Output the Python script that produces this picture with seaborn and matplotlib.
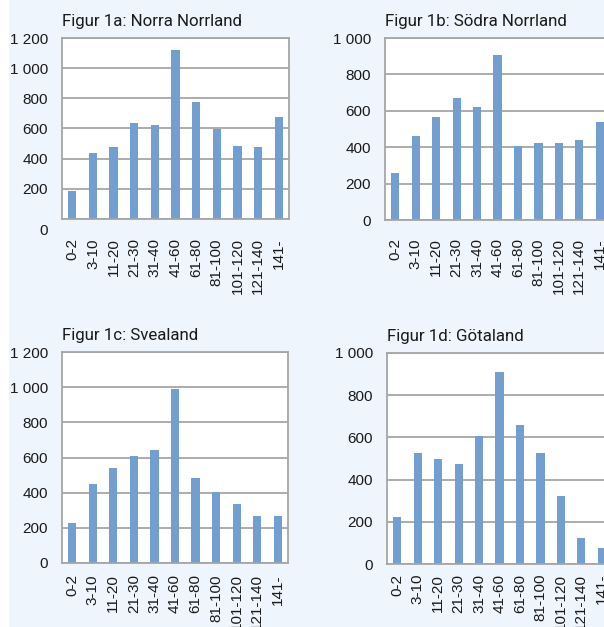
import matplotlib
matplotlib.use("Agg")
import matplotlib.pyplot as plt
import matplotlib.transforms as mtransforms
from matplotlib.patches import Rectangle
import seaborn as sns
import pandas as pd

# Age classes (years) shared by all four regional panels
age_classes = ["0-2", "3-10", "11-20", "21-30", "31-40", "41-60",
               "61-80", "81-100", "101-120", "121-140", "141-"]

norra_norrland = [185, 435, 475, 635, 625, 1120, 775, 595, 485, 475, 675]
sodra_norrland = [260, 460, 565, 670, 620, 905, 405, 425, 425, 440, 540]
svealand = [225, 450, 540, 610, 640, 990, 485, 405, 335, 270, 270]
gotaland = [225, 525, 500, 475, 605, 910, 660, 525, 320, 125, 75]

titles = ["Figur 1a: Norra Norrland", "Figur 1b: Södra Norrland",
          "Figur 1c: Svealand", "Figur 1d: Götaland"]
y_max = [1200, 1000, 1200, 1000]

W, H = 604, 627
DPI = 100
BAR = "#729fcf"
GRID = "#a6a6a6"
PANEL_BG = "#eef5fc"

sns.set_theme(style="white")
plt.rcParams["font.family"] = ["Liberation Sans", "DejaVu Sans"]

fig = plt.figure(figsize=(W / DPI, H / DPI), dpi=DPI)
fig.patch.set_facecolor("white")
fig.patches.append(Rectangle((9 / W, 0), 1, 1, transform=fig.transFigure,
                             facecolor=PANEL_BG, edgecolor="none", zorder=-10))


def px_axes(left, top, right, bottom):
    return fig.add_axes([left / W, 1 - bottom / H, (right - left) / W, (bottom - top) / H])


# plot-area boxes in pixels: left, top, right, bottom
boxes = [(62, 38, 289, 219), (385, 38, 610, 220),
         (62, 352, 288, 563), (387, 353, 612, 564)]
series = [norra_norrland, sodra_norrland, svealand, gotaland]
xpads = [14, 13, 8, 7]


def fmt(v):
    return f"{v:,}".replace(",", " ")


for i, (box, vals, title, ymax) in enumerate(zip(boxes, series, titles, y_max)):
    ax = px_axes(*box)
    ax.set_facecolor("white")
    df = pd.DataFrame({"age": age_classes, "value": vals})
    sns.barplot(data=df, x="age", y="value", color=BAR, saturation=1,
                width=0.4, linewidth=0, ax=ax)
    for p in ax.patches:
        p.set_zorder(3)
    ax.set_xlim(-0.5, len(age_classes) - 0.5)
    ax.set_ylim(0, ymax)
    ticks = list(range(0, ymax + 1, 200))
    ax.set_yticks(ticks)
    ax.set_yticklabels([fmt(t) for t in ticks])
    ax.set_xlabel("")
    ax.set_ylabel("")
    ax.grid(axis="y", color=GRID, linewidth=1.3)
    for gl in ax.get_ygridlines():
        gl.set_zorder(1)
    for s in ax.spines.values():
        s.set_color(GRID)
        s.set_linewidth(1.3)
        s.set_zorder(4)
    ax.tick_params(axis="y", length=0, pad=10, labelsize=11, labelcolor="#1a1a1a")
    ax.tick_params(axis="x", length=0, pad=xpads[i], labelsize=11,
                   labelcolor="#1a1a1a", rotation=90)
    for lab in ax.get_xticklabels():
        lab.set_va("top")
    if i == 3:
        ax.set_xticks([k + 0.5 for k in range(-1, len(age_classes))], minor=True)
        ax.tick_params(axis="x", which="minor", length=4, width=1.2,
                       color=GRID, direction="out")
    ax.text(0, 1, title, transform=ax.transAxes + mtransforms.ScaledTranslation(
                0, 12 / DPI, fig.dpi_scale_trans),
            ha="left", va="baseline", fontsize=12.2, color="#1a1a1a",
            family=["Roboto", "DejaVu Sans"])
    if i == 0:
        # the zero label of the first panel sits a little below its baseline
        lab0 = ax.get_yticklabels()[0]
        lab0.set_transform(lab0.get_transform() + mtransforms.ScaledTranslation(
            0, -11 / DPI, fig.dpi_scale_trans))

fig.savefig("out.png", dpi=DPI)
